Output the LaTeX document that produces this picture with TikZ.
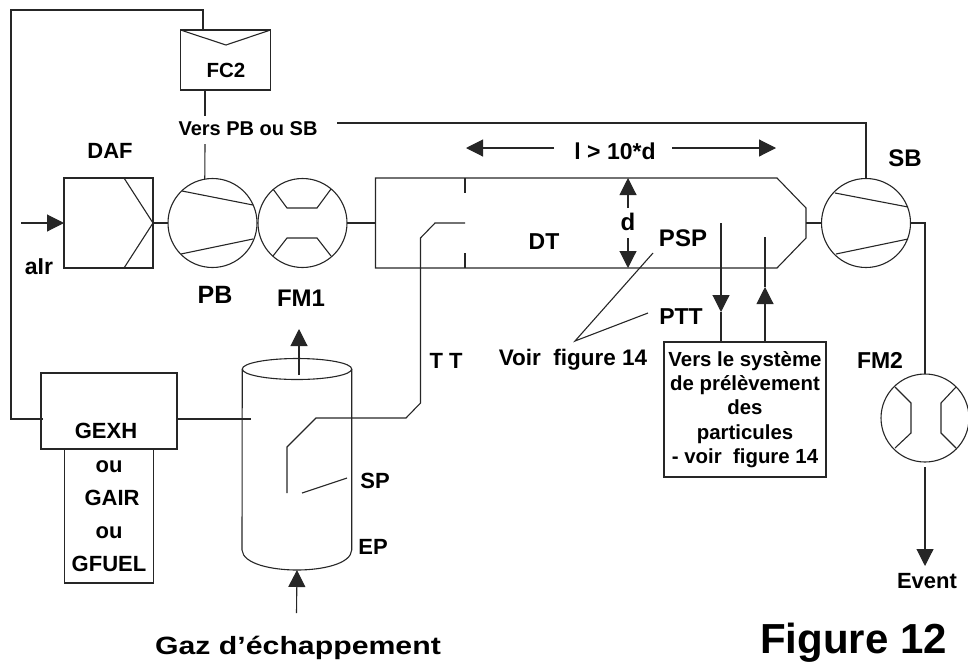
\documentclass[tikz,border=0pt]{standalone}
\usepackage{fontspec}
\setmainfont{Liberation Sans}
\usetikzlibrary{shapes.geometric, arrows.meta, positioning, calc}

\begin{document}
\begin{tikzpicture}[
	x=1pt, y=-1pt,
	% --- STYLES ---
	% Square boxes and round instruments
	block/.style={
		draw=black!85,
		line width=1.1pt,
		align=center,
		inner sep=0pt,
		outer sep=0pt,
		font=\bfseries\fontsize{21}{24}\selectfont
	},
	instr/.style={
		circle,
		draw=black!85,
		line width=1.1pt,
		inner sep=0pt,
		outer sep=0pt,
		minimum size=#1
	},
	instr/.default=89pt,
	% Plain lines and lines with a heavy head
	line/.style={
		draw=black!85,
		line width=1.1pt
	},
	flow/.style={
		line,
		-{Triangle[length=17pt, width=17pt]}
	},
	% Text set on its base line
	io/.style={
		anchor=base,
		inner sep=0pt,
		font=\bfseries\fontsize{#1}{#1}\selectfont
	},
	io/.default=22
	]
	
	\useasboundingbox (0,0) rectangle (968,662);
	
	% --- Nodes (main line) ---
	\node[block, minimum width=89pt, minimum height=90pt] (daf) at (108.5,223) {};
	\node[instr, right=15pt of daf] (pb) {};
	\node[instr, right=1pt of pb] (fm1) {};
	\node[instr] (sb) at (866,223) {};
	\node[instr=88pt] (fm2) at (925,418) {};
	\node[block, minimum width=90pt, minimum height=60pt] (fc2) at (225.5,60) {};
	\node[block, minimum width=136pt, minimum height=76pt] (gexh) at (109,411) {};
	\node[block, minimum width=89pt, minimum height=134pt, below=0pt of gexh] (gas) {};
	\node[block, minimum width=162pt, minimum height=135pt] (samp) at (745,409.5) {};
	
	% --- Shape of the tunnel and of the exhaust pipe ---
	\coordinate (dt_w) at (375.5,223);
	\coordinate (dt_e) at (806,223);
	\draw[line] (dt_w |- 0,178) -- (777,178) -- (806,208) -- (dt_e) -- (806,238) -- (777,268) -- (375.5,268) -- cycle;
	\draw[line] (465,178) -- (465,193);
	\draw[line] (465,253) -- (465,268);
	
	\node[draw=black!85, line width=1.1pt, ellipse, inner sep=0pt, outer sep=0pt, minimum width=109.5pt, minimum height=21pt] (ep_top) at (297,369) {};
	\coordinate (ep_in) at (251,419);
	\coordinate (ep_bot) at (297,570);
	\draw[line] (ep_top.west) -- (242,550) .. controls (243,564) and (272,570) .. (ep_bot)
		.. controls (322,570) and (351,564) .. (351.7,550) -- (ep_top.east);
	
	% --- Inner lines of the boxes and instruments ---
	\draw[line] (fc2.north west) -- (226,45) -- (fc2.north east);
	\draw[line] (124,178) -- (daf.east) -- (124,268);
	\draw[line] (182,191) -- (253,205);
	\draw[line] (181,254) -- (253,239);
	\draw[line] (273,189) -- (287,208) -- (317,208) -- (331,189);
	\draw[line] (273,256) -- (287,238) -- (317,238) -- (331,256);
	\draw[line] (835,193) -- (908,207);
	\draw[line] (836,254) -- (908,239);
	\draw[line] (895,387) -- (911,403) -- (911,433) -- (895,448);
	\draw[line] (956,387) -- (941,403) -- (941,433) -- (956,448);
	
	% --- Labels ---
	\node[io=20.5] (fc2_lab) at (226,77) {FC2};
	\node[io=20] (vers) at (248,135) {Vers PB ou SB};
	\node[io] (daf_lab) at (110,158) {DAF};
	\node[io=23] (air) at (39,274) {aIr};
	\node[io=25] (pb_lab) at (215,303) {PB};
	\node[io=24] (fm1_lab) at (301,306) {FM1};
	\node[io=23] (len) at (615,159) {l > 10*d};
	\node[io=24] (d_lab) at (628,230) {d};
	\node[io=23] (dt) at (544,249) {DT};
	\node[io=24] (psp) at (683,246) {PSP};
	\node[io=23] (ptt) at (681,324) {PTT};
	\node[io=24] (sb_lab) at (905,166) {SB};
	\node[io=23] (fm2_lab) at (880,368) {FM2};
	\node[io=22.5] (voir) at (573,365) {Voir\ \ figure 14};
	\node[io] (tt) at (446,368) {T T};
	\node[io] (sp) at (375,488) {SP};
	\node[io] (ep) at (373,554) {EP};
	\node[io] (gexh_lab) at (106,438) {GEXH};
	\node[io] (event) at (927,588) {Event};
	\node[io=25] (gaz) at (298,654) {\scalebox{1.21}[1]{Gaz d’échappement}};
	\node[io=42] (fig) at (853.5,653) {Figure 12};
	
	% --- Text inside the boxes ---
	\node[io, align=center, anchor=center, font=\bfseries\fontsize{22}{33}\selectfont] (gas_lab) at (gas.center) {ou\\\hspace*{6pt}GAIR\\ou\\GFUEL};
	\node[io, align=center, anchor=center, font=\bfseries\fontsize{20.4}{24.3}\selectfont] (samp_lab) at (samp.center) {Vers le système\\de prélèvement\\des\\particules\\- voir\ \ figure 14};
	
	% --- Free ends of the connectors ---
	\coordinate (air_in) at (21,223);
	\coordinate (loop_a) at (43,419);
	\coordinate (loop_b) at (11,10);
	\coordinate (loop_c) at (203,10);
	\coordinate (loop_d) at (203,30);
	\coordinate (fc2_a) at (205,90);
	\coordinate (fc2_b) at (205,116);
	\coordinate (fc2_c) at (205,144);
	\coordinate (sb_a) at (337,123);
	\coordinate (len_a) at (554,148);
	\coordinate (len_b) at (466,148);
	\coordinate (len_c) at (672,148);
	\coordinate (len_d) at (776,148);
	\coordinate (d_a) at (628,208);
	\coordinate (d_b) at (628,178);
	\coordinate (d_c) at (628,238);
	\coordinate (d_d) at (628,268);
	\coordinate (psp_a) at (653,253);
	\coordinate (ptt_a) at (648,313);
	\coordinate (voir_a) at (575,341);
	\coordinate (probe_a) at (721,223);
	\coordinate (probe_b) at (721,312);
	\coordinate (probe_c) at (721,342);
	\coordinate (probe_d) at (765,342);
	\coordinate (probe_e) at (765,287);
	\coordinate (probe_f) at (765,237);
	\coordinate (tt_a) at (465,223);
	\coordinate (tt_b) at (287,493);
	\coordinate (sp_a) at (302,493);
	\coordinate (sp_b) at (347,478);
	\coordinate (ep_out) at (299,375);
	\coordinate (ep_up) at (299,329);
	\coordinate (ep_src) at (296.5,613);
	\coordinate (fm2_a) at (925,467);
	\coordinate (fm2_b) at (925,566);
	
	% --- Connections ---
	\draw[flow] (air_in) -- (daf.west);
	\draw[line] (daf.east) -- (pb.west);
	\draw[line] (fm1.east) -- (dt_w);
	\draw[line] (dt_e) -- (sb.west);
	\draw[line] (sb.east) -| (fm2.north);
	\draw[line] (loop_a) -| (loop_b) -- (loop_c) -- (loop_d);
	\draw[line] (fc2_a) -- (fc2_b);
	\draw[line] (fc2_c) -- (pb.100);
	\draw[line] (sb_a) -| (sb.north);
	\draw[line] (gexh.east |- ep_in) -- (ep_in);
	\draw[line] (tt_a) -- (435,223) -- (420.5,238) -- (420.5,403) -- (406,418) -- (316,418) -- (287,447) -- (tt_b);
	\draw[line] (sp_a) -- (sp_b);
	
	% --- Arrows ---
	\draw[flow] (len_a) -- (len_b);
	\draw[flow] (len_c) -- (len_d);
	\draw[flow] (d_a) -- (d_b);
	\draw[flow] (d_c) -- (d_d);
	\draw[flow] (probe_a) -- (probe_b);
	\draw[line] (probe_b) -- (probe_c);
	\draw[flow] (probe_d) -- (probe_e);
	\draw[line] (probe_e) -- (probe_f);
	\draw[flow] (ep_out) -- (ep_up);
	\draw[flow] (ep_src) -- (ep_bot);
	\draw[flow] (fm2_a) -- (fm2_b);
	\draw[line] (psp_a) -- (voir_a) -- (ptt_a);
	
\end{tikzpicture}
\end{document}
